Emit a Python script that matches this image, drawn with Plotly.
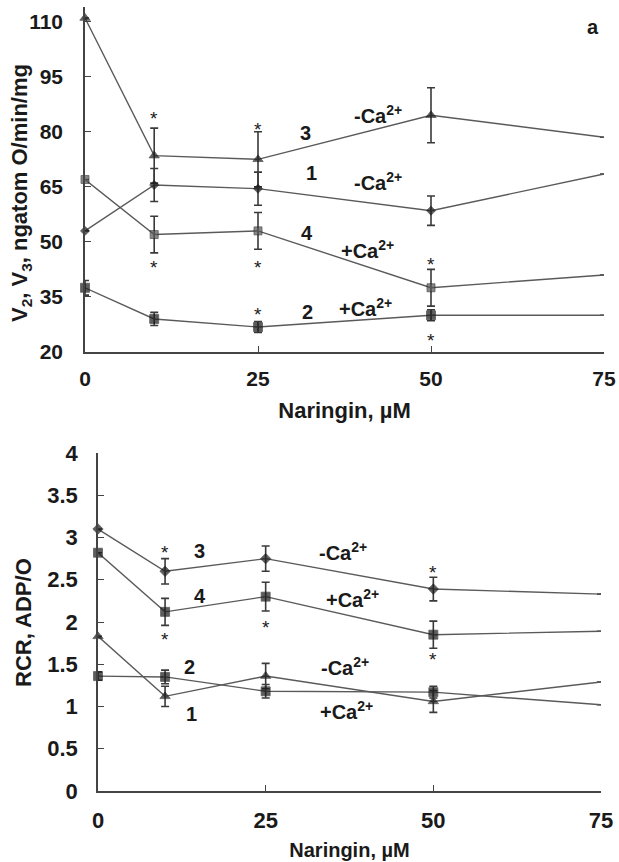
import plotly.graph_objects as go

# ---------------- data ----------------
conc = [0, 10, 25, 50, 75]

# panel a: V2, V3 (ngatom O/min/mg)
a_s3 = [111, 73.5, 72.5, 84.5, 78.5]
a_s3_err = [0, 7.5, 7.5, 7.5, 0]
a_s1 = [53, 65.5, 64.5, 58.5, 68.5]
a_s1_err = [0, 4.5, 4.5, 4.0, 0]
a_s4 = [67, 52, 53, 37.5, 41]
a_s4_err = [0, 5, 5, 5, 0]
a_s2 = [37.5, 29, 26.8, 30, 30]
a_s2_err = [2, 1.8, 1.5, 1.5, 0]

# panel b: RCR, ADP/O
b_s3 = [3.10, 2.60, 2.75, 2.39, 2.33]
b_s3_err = [0, 0.15, 0.15, 0.14, 0]
b_s4 = [2.82, 2.12, 2.30, 1.85, 1.89]
b_s4_err = [0, 0.16, 0.17, 0.16, 0]
b_s1 = [1.83, 1.12, 1.36, 1.06, 1.29]
b_s1_err = [0, 0.12, 0.15, 0.13, 0]
b_s2 = [1.36, 1.35, 1.18, 1.17, 1.02]
b_s2_err = [0.05, 0.08, 0.08, 0.07, 0]

a_yticks = [20, 35, 50, 65, 80, 95, 110]
b_yticks = [0, 0.5, 1, 1.5, 2, 2.5, 3, 3.5, 4]
b_yticklabels = ["0", "0.5", "1", "1.5", "2", "2.5", "3", "3.5", "4"]
x_ticks = [0, 25, 50, 75]

# significance marks (x, y)
a_stars = [(10, 84.9), (10, 44.5), (25, 81.9), (25, 44.5), (25, 31.5), (50, 45.1), (50, 24.6)]
b_stars = [(10, 2.88), (10, 1.85), (25, 2.0), (50, 2.65), (50, 1.61)]

# curve labels (text, x, y)
a_labels = [("3", 31.8, 79.7), ("1", 32.7, 68.8), ("4", 32.1, 52.5), ("2", 32.1, 30.9),
            ("-Ca<sup>2+</sup>", 42.3, 84.6), ("-Ca<sup>2+</sup>", 42.3, 66.4),
            ("+Ca<sup>2+</sup>", 40.8, 47.8), ("+Ca<sup>2+</sup>", 40.5, 32.0),
            ("a", 73.4, 108.6)]
b_labels = [("3", 15.2, 2.84), ("4", 15.2, 2.31), ("2", 13.7, 1.47), ("1", 14.0, 0.91),
            ("-Ca<sup>2+</sup>", 36.5, 2.84), ("+Ca<sup>2+</sup>", 38.0, 2.28),
            ("-Ca<sup>2+</sup>", 36.8, 1.47), ("+Ca<sup>2+</sup>", 37.1, 0.95),
            ("b", 76.6, 3.86)]

a_ytitle = "V<sub>2</sub>, V<sub>3</sub>, ngatom O/min/mg"
b_ytitle = "RCR, ADP/O"
x_title = "Naringin, µM"

# ---------------- styling ----------------
LINE = "#5a5a5a"
INK = "#1a1a1a"
FONT = "Liberation Sans, Arial, sans-serif"

fig = go.Figure()


def add_series(y, err, sym, size, color, xa, ya):
    sizes = [size] * (len(conc) - 1) + [0]
    fig.add_trace(go.Scatter(
        x=conc, y=y, mode="lines+markers",
        line=dict(color=LINE, width=1.4),
        marker=dict(symbol=sym, size=sizes, color=color, line=dict(width=0.8, color=INK)),
        error_y=dict(type="data", array=err, visible=True, color="#3a3a3a",
                     thickness=1.6, width=4),
        xaxis=xa, yaxis=ya, showlegend=False, cliponaxis=False))


add_series(a_s3, a_s3_err, "triangle-up", 9, INK, "x", "y")
add_series(a_s1, a_s1_err, "diamond", 7, INK, "x", "y")
add_series(a_s4, a_s4_err, "square", 8, "#555555", "x", "y")
add_series(a_s2, a_s2_err, "square", 9, INK, "x", "y")

add_series(b_s3, b_s3_err, "diamond", 8, INK, "x2", "y2")
add_series(b_s4, b_s4_err, "square", 9, INK, "x2", "y2")
add_series(b_s1, b_s1_err, "triangle-up", 9, INK, "x2", "y2")
add_series(b_s2, b_s2_err, "square", 9, INK, "x2", "y2")

W, H = 619, 862

annotations = []
for (sx, sy) in a_stars:
    annotations.append(dict(x=sx, y=sy, xref="x", yref="y", text="*", showarrow=False,
                            yshift=-5, font=dict(family=FONT, size=19, color=INK)))
for (sx, sy) in b_stars:
    annotations.append(dict(x=sx, y=sy, xref="x2", yref="y2", text="*", showarrow=False,
                            yshift=-5, font=dict(family=FONT, size=19, color=INK)))
for (t, lx, ly) in a_labels:
    annotations.append(dict(x=lx, y=ly, xref="x", yref="y", text=t, showarrow=False,
                            font=dict(family=FONT, size=20, color=INK, weight="bold")))
for (t, lx, ly) in b_labels:
    annotations.append(dict(x=lx, y=ly, xref="x2", yref="y2", text=t, showarrow=False,
                            font=dict(family=FONT, size=20, color=INK, weight="bold")))
# y-axis titles
annotations.append(dict(x=21 / W, y=1 - 193 / H, xref="paper", yref="paper", text=a_ytitle,
                        textangle=-90, showarrow=False, xanchor="center", yanchor="middle",
                        font=dict(family=FONT, size=22, color=INK, weight="bold")))
annotations.append(dict(x=23 / W, y=1 - 623 / H, xref="paper", yref="paper", text=b_ytitle,
                        textangle=-90, showarrow=False, xanchor="center", yanchor="middle",
                        font=dict(family=FONT, size=22, color=INK, weight="bold")))


def axis_style(tick_size, title_size):
    return dict(showgrid=False, zeroline=False, showline=True, linecolor="#444",
                linewidth=1.5, ticks="inside", tickcolor="#444", tickwidth=1.3,
                ticklen=6, automargin=False,
                tickfont=dict(family=FONT, size=tick_size, color=INK, weight="bold"),
                title_font=dict(family=FONT, size=title_size, color=INK, weight="bold"))


fig.update_layout(
    width=W, height=H, margin=dict(l=0, r=0, t=0, b=0),
    paper_bgcolor="white", plot_bgcolor="white",
    annotations=annotations,
    xaxis=dict(domain=[85 / W, 604 / W], range=[0, 75], tickvals=x_ticks,
               anchor="y", ticklabelstandoff=7,
               title=dict(text=x_title, standoff=14), **axis_style(21, 22)),
    yaxis=dict(domain=[1 - 352 / H, 1 - 7 / H], range=[20, 114], tickvals=a_yticks,
               anchor="x", ticklabelstandoff=16, **axis_style(21, 22)),
    xaxis2=dict(domain=[98 / W, 601 / W], range=[0, 75], tickvals=x_ticks,
                anchor="y2", ticklabelstandoff=9,
                title=dict(text=x_title, standoff=11), **axis_style(22, 20)),
    yaxis2=dict(domain=[1 - 791 / H, 1 - 453 / H], range=[0, 4], tickvals=b_yticks,
                ticktext=b_yticklabels, anchor="x2", ticklabelstandoff=14,
                **axis_style(22, 22)),
)

fig.write_html("out.html")
